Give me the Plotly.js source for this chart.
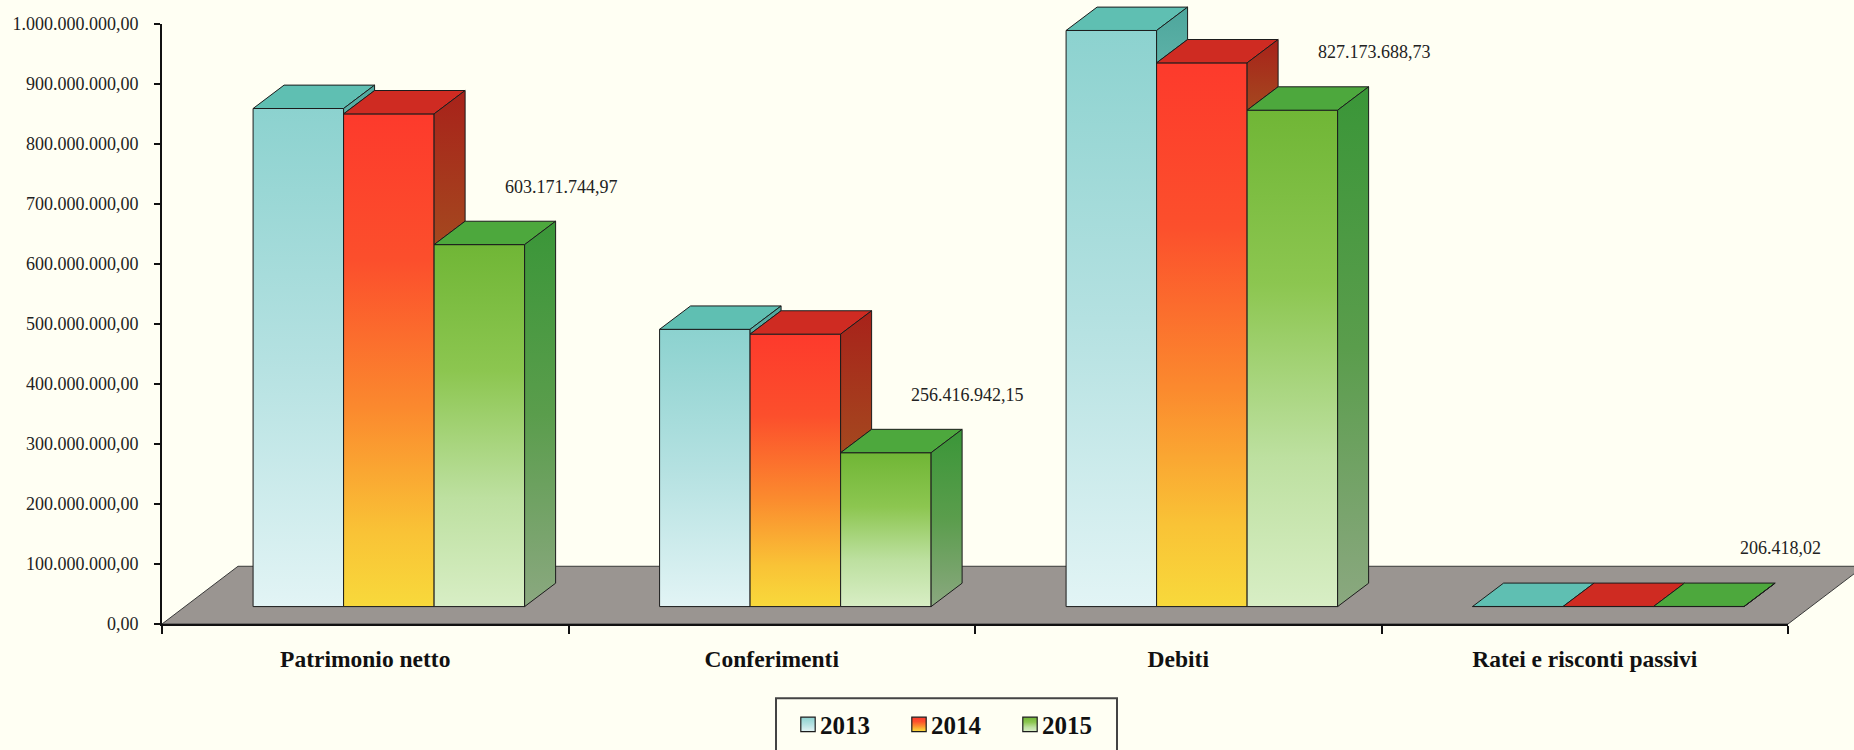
<!DOCTYPE html>
<html>
<head>
<meta charset="utf-8">
<script src="https://cdn.plot.ly/plotly-3.0.1.min.js"></script>
<style>
html,body{margin:0;padding:0;background:#fffff3;}
#chart{width:1854px;height:750px;}
</style>
</head>
<body>
<div id="chart"></div>
<script>
// ---------------- data ----------------
const categories = ['Patrimonio netto', 'Conferimenti', 'Debiti', 'Ratei e risconti passivi'];
const years = ['2013', '2014', '2015'];
const values2013 = [830000000, 462000000, 960000000, 195000];
const values2014 = [821000000, 454000000, 906000000, 201000];
const values2015 = [603171744.97, 256416942.15, 827173688.73, 206418.02];
const labels2015 = ['603.171.744,97', '256.416.942,15', '827.173.688,73', '206.418,02'];
const yTickValues = [0, 100000000, 200000000, 300000000, 400000000, 500000000,
                     600000000, 700000000, 800000000, 900000000, 1000000000];

// ---------------- geometry / style ----------------
const W = 1854, H = 750, ML = 162, MR = 66, MT = 2, MB = 123;
const plotW = W - ML - MR, plotH = H - MT - MB;
const pxPerValue = 603 / 1e9;           // 0 -> 1.000.000.000 spans 603 px
const pxPerCat = plotW / categories.length;
const frontShiftX = 23.6, frontShiftY = 17.5;   // bars' front plane inside the floor
const depthX = 31, depthY = 23.5;               // bar depth (oblique)
const floorDepthX = 76, floorDepthY = 58;       // floor depth
const bargap = 0.332;
const bw = (1 - bargap) / years.length;
const dxU = depthX / pxPerCat;
const dyU = depthY / pxPerValue;
const y2Off = frontShiftY / pxPerValue;
const x2Off = frontShiftX / pxPerCat;

const seriesValues = [values2013, values2014, values2015];
const topColors = ['#5fbfb2', '#cf2b22', '#4da83d'];
const midColors = ['#b6e2e2', '#fb7a2d', '#a3d070'];
const edge = '#1c1c1c';
const serif = '"Liberation Serif", "Times New Roman", serif';

const grads = {
  g0: [[0, '#8cd2cf'], [0.5, '#b4e1e1'], [1, '#e2f4f5']],
  g1: [[0, '#fd3a2c'], [0.3, '#fc4f2c'], [0.6, '#fb8a2e'], [0.85, '#f9c336'], [1, '#f8d93b']],
  g2: [[0, '#70b636'], [0.35, '#8cc650'], [0.7, '#bde0a0'], [1, '#d8eec5']],
  s0: [[0, '#4da69c'], [1, '#5db1a7']],
  s1: [[0, '#a8221a'], [1, '#a4481f']],
  s2: [[0, '#3a9638'], [0.5, '#5a9d4c'], [1, '#8ba880']]
};

// ---------------- traces ----------------
const xIdx = categories.map((_, i) => i);
const traces = [{
  type: 'scatter', x: categories, y: categories.map(() => 0),
  xaxis: 'x', yaxis: 'y', mode: 'markers', marker: {opacity: 0},
  showlegend: false, hoverinfo: 'skip'
}];
years.forEach((yr, s) => {
  traces.push({
    type: 'bar', name: yr, x: xIdx, y: seriesValues[s],
    xaxis: 'x2', yaxis: 'y2',
    marker: {color: midColors[s], line: {color: edge, width: 1}},
    hoverinfo: 'skip'
  });
});

// ---------------- 3D faces as shapes ----------------
const shapes = [];
const gradShapes = [];
const fdx = floorDepthX / plotW, fdy = floorDepthY / plotH;
shapes.push({
  type: 'path', xref: 'paper', yref: 'paper', layer: 'below',
  path: `M0,0L1,0L${1 + fdx},${fdy}L${fdx},${fdy}Z`,
  fillcolor: '#9a9591', line: {color: '#3a3a3a', width: 1}
});
// legend frame (open at the bottom edge of the picture, as in the original)
shapes.push({
  type: 'rect', xref: 'paper', yref: 'paper', layer: 'above',
  x0: (776 - ML) / plotW, x1: (1117 - ML) / plotW,
  y0: (627 - 770) / plotH, y1: (627 - 701.5) / plotH,
  fillcolor: 'rgba(0,0,0,0)', line: {color: '#444', width: 2}
});
categories.forEach((c, i) => {
  seriesValues.forEach((vals, s) => {
    const v = vals[i];
    const left = i + (s - 1) * bw - bw / 2;
    const right = left + bw;
    shapes.push({
      type: 'path', xref: 'x2', yref: 'y2', layer: 'above',
      path: `M${left},${v}L${right},${v}L${right + dxU},${v + dyU}L${left + dxU},${v + dyU}Z`,
      fillcolor: topColors[s], line: {color: edge, width: 1}
    });
    const lo = s < years.length - 1 ? seriesValues[s + 1][i] : 0;
    if (v > lo) {
      shapes.push({
        type: 'path', xref: 'x2', yref: 'y2', layer: 'above',
        path: `M${right},${lo}L${right},${v}L${right + dxU},${v + dyU}L${right + dxU},${lo + dyU}Z`,
        fillcolor: topColors[s], line: {color: edge, width: 1}
      });
      gradShapes.push([shapes.length - 1, 's' + s]);
    }
  });
});

// ---------------- labels ----------------
const annotations = categories.map((c, i) => ({
  xref: 'x2', yref: 'y2', x: i + bw, y: values2015[i],
  xshift: 82, yshift: 58, text: labels2015[i], showarrow: false,
  xanchor: 'center', yanchor: 'middle',
  font: {family: serif, size: 18, color: '#222'}
}));

const layout = {
  width: W, height: H,
  margin: {l: ML, r: MR, t: MT, b: MB, pad: 0},
  paper_bgcolor: '#fffff3', plot_bgcolor: 'rgba(0,0,0,0)',
  separators: ',.',
  barmode: 'group', bargap: bargap, bargroupgap: 0,
  showlegend: true,
  xaxis: {
    type: 'category', domain: [0, 1], anchor: 'y', range: [-0.5, 3.5],
    tickson: 'boundaries', ticks: 'outside', ticklen: 8, tickwidth: 2, tickcolor: '#111',
    showline: true, linecolor: '#111', linewidth: 2, showgrid: false, zeroline: false,
    tickfont: {family: serif, size: 23.5, color: '#111', weight: 'bold'},
    ticklabelstandoff: 13, fixedrange: true
  },
  yaxis: {
    domain: [0, 603 / plotH], anchor: 'x', range: [0, 1e9],
    tickvals: yTickValues, tickformat: ',.2f',
    ticks: 'outside', ticklen: 6, tickwidth: 2, tickcolor: '#111',
    showline: true, linecolor: '#111', linewidth: 2, showgrid: false, zeroline: false,
    tickfont: {family: serif, size: 18, color: '#222'},
    ticklabelstandoff: 12, fixedrange: true
  },
  xaxis2: {
    domain: [0, 1], anchor: 'y2', range: [-0.5 - x2Off, 3.5 - x2Off],
    visible: false, fixedrange: true
  },
  yaxis2: {
    domain: [0, 1], anchor: 'x2', range: [-y2Off, plotH / pxPerValue - y2Off],
    visible: false, fixedrange: true
  },
  legend: {
    orientation: 'h', x: (946.5 - ML) / plotW, xanchor: 'center',
    y: (627 - 705) / plotH, yanchor: 'top',
    entrywidth: 66,
    bgcolor: 'rgba(0,0,0,0)', borderwidth: 0,
    font: {family: serif, size: 25, color: '#111', weight: 'bold'},
    itemclick: false, itemdoubleclick: false
  },
  shapes: shapes,
  annotations: annotations
};

function addGradients() {
  const svg = gd.querySelector('svg.main-svg');
  const NS = 'http://www.w3.org/2000/svg';
  let defs = svg.querySelector('defs');
  if (!defs) { defs = document.createElementNS(NS, 'defs'); svg.insertBefore(defs, svg.firstChild); }
  Object.keys(grads).forEach(id => {
    const lg = document.createElementNS(NS, 'linearGradient');
    lg.setAttribute('id', 'grad-' + id);
    lg.setAttribute('x1', '0'); lg.setAttribute('y1', '0');
    lg.setAttribute('x2', '0'); lg.setAttribute('y2', '1');
    grads[id].forEach(([o, col]) => {
      const st = document.createElementNS(NS, 'stop');
      st.setAttribute('offset', String(o));
      st.setAttribute('stop-color', col);
      lg.appendChild(st);
    });
    defs.appendChild(lg);
  });
  gd.querySelectorAll('.barlayer .trace').forEach((tr, s) => {
    tr.querySelectorAll('.point path').forEach(p => { p.style.fill = 'url(#grad-g' + s + ')'; });
  });
  gradShapes.forEach(([k, id]) => {
    gd.querySelectorAll('.shapelayer path[data-index="' + k + '"]').forEach(p => {
      p.style.fill = 'url(#grad-' + id + ')';
    });
  });
  gd.querySelectorAll('.legend .traces').forEach((tr, s) => {
    tr.querySelectorAll('.legendpoints path').forEach(p => {
      p.style.fill = 'url(#grad-g' + s + ')';
      p.setAttribute('transform', (p.getAttribute('transform') || '') + ' translate(8,0) scale(1.2)');
    });
  });
}

const gd = document.getElementById('chart');
Plotly.newPlot(gd, traces, layout, {displayModeBar: false, staticPlot: true}).then(addGradients);
</script>
</body>
</html>
